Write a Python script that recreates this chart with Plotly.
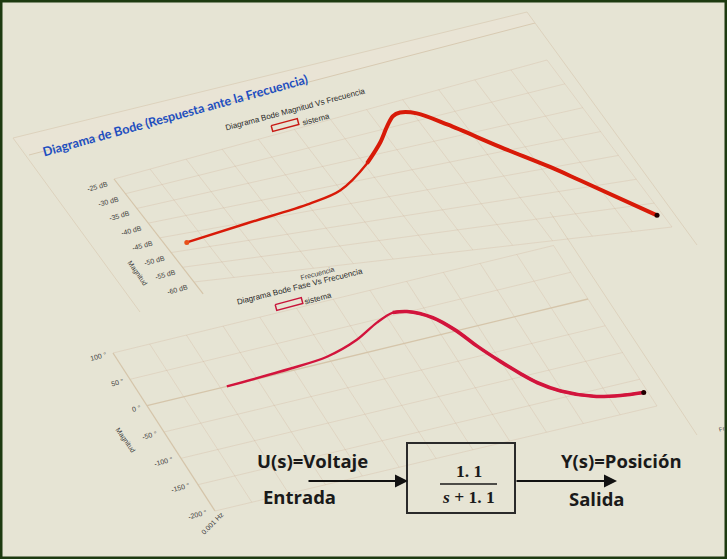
import math
import plotly.graph_objects as go

W, H = 727, 559

# ---------------- data ----------------
# frequency axis: log10(Hz), 0.001 Hz .. 1000 Hz
FREQ_LOG_RANGE = [-3, 3]
FREQ_GRID = [-3, -2.5, -2, -1.5, -1, -0.5, 0, 0.5, 1, 1.5, 2, 2.5, 3]

# magnitude (dB) vs log10 f
MAG_LOGF = [-2.73, -1.866, -0.972, -0.51, 0.036, 0.366, 0.582, 0.744, 0.858,
            1.044, 1.302, 1.71, 2.112, 2.34, 2.928]
MAG_DB = [-47.75, -45.3, -43.2, -41.45, -36.55, -32.7, -29.7, -27.8, -27.45,
          -28.5, -32.3, -39.0, -44.85, -48.45, -57.4]
MAG_RANGE = [-60, -25]
MAG_TICKS = [-25, -30, -35, -40, -45, -50, -55, -60]
MAG_TICK_TEXT = ["-25 dB", "-30 dB", "-35 dB", "-40 dB", "-45 dB", "-50 dB", "-55 dB", "-60 dB"]

# phase (deg) vs log10 f
PH_LOGF = [-1.914, -1.038, -0.51, -0.03, 0.336, 0.6, 0.774, 1.032, 1.2, 1.338,
           1.494, 1.638, 1.77, 1.98, 2.328, 2.652, 2.946]
PH_DEG = [0, 3.8, 8.8, 24.7, 44.7, 54.7, 50.8, 30.6, 2.1, -33.0, -66.8, -94.5,
          -116, -138.4, -159.8, -168.9, -173.1]
PH_RANGE = [-200, 100]
PH_TICKS = [100, 50, 0, -50, -100, -150, -200]
PH_TICK_TEXT = ["100 °", "50 °", "0 °", "-50 °", "-100 °", "-150 °", "-200 °"]

# ---------------- tilted-plane geometry (screen px) ----------------
MAG_BOX = ((194, 282), (672, 227), (114, 179), (547, 60))      # bl, br, tl, tr
PH_BOX = ((215, 511), (657, 406), (113, 353), (553.5, 245.5))


def bilin(box, u, v):
    bl, br, tl, tr = box
    x = (1-u)*(1-v)*bl[0] + u*(1-v)*br[0] + (1-u)*v*tl[0] + u*v*tr[0]
    y = (1-u)*(1-v)*bl[1] + u*(1-v)*br[1] + (1-u)*v*tl[1] + u*v*tr[1]
    return x, y


def fu(logf):
    return (logf - FREQ_LOG_RANGE[0]) / (FREQ_LOG_RANGE[1] - FREQ_LOG_RANGE[0])


def mag_xy(logf, db):
    return bilin(MAG_BOX, fu(logf), (db - MAG_RANGE[0]) / (MAG_RANGE[1] - MAG_RANGE[0]))


def ph_xy(logf, deg):
    return bilin(PH_BOX, fu(logf), (deg - PH_RANGE[0]) / (PH_RANGE[1] - PH_RANGE[0]))


def proj(fn, xs, ys):
    pts = [fn(a, b) for a, b in zip(xs, ys)]
    return [p[0] for p in pts], [p[1] for p in pts]


BG = "#E6E4D4"
GRID = "rgba(200,160,130,0.22)"
AXIS = "#D5C5AA"
TICK_FONT = dict(family="Liberation Sans, Arial", size=7, color="#3a3a3a")

fig = go.Figure()


def add_lines(segs, color, width):
    xs, ys = [], []
    for (x0, y0), (x1, y1) in segs:
        xs += [x0, x1, None]
        ys += [y0, y1, None]
    fig.add_trace(go.Scatter(x=xs, y=ys, mode="lines", line=dict(color=color, width=width),
                             hoverinfo="skip"))


# header band + container borders (decor)
fig.add_trace(go.Scatter(x=[13, 527, 535, 29, 13], y=[138, 12, 23, 155, 138], mode="lines",
                         fill="toself", fillcolor="#E9E4D5", line=dict(color="rgba(0,0,0,0)", width=0),
                         hoverinfo="skip"))
add_lines([((29, 155), (535, 23))], "#D8CAB2", 1)
add_lines([((13, 138), (527, 12)), ((13, 138), (140, 312)), ((527, 12), (697, 245)),
           ((550, 212), (697, 435))], "#DDD2BD", 1)

# ---- magnitude grid ----
segs = []
for db in MAG_TICKS:
    segs.append((mag_xy(FREQ_LOG_RANGE[0], db), mag_xy(FREQ_LOG_RANGE[1], db)))
for lf in FREQ_GRID[1:]:
    segs.append((mag_xy(lf, MAG_RANGE[0]), mag_xy(lf, MAG_RANGE[1])))
add_lines(segs, GRID, 1)
add_lines([(mag_xy(FREQ_LOG_RANGE[0], MAG_RANGE[1]), mag_xy(FREQ_LOG_RANGE[0], MAG_RANGE[0] - 4))], AXIS, 1.2)

# ---- phase grid ----
segs = []
for d in PH_TICKS:
    if d != 0:
        segs.append((ph_xy(FREQ_LOG_RANGE[0], d), ph_xy(FREQ_LOG_RANGE[1], d)))
for lf in FREQ_GRID[1:]:
    segs.append((ph_xy(lf, PH_RANGE[0]), ph_xy(lf, PH_RANGE[1])))
add_lines(segs, GRID, 1)
add_lines([(ph_xy(FREQ_LOG_RANGE[0], PH_RANGE[1]), ph_xy(FREQ_LOG_RANGE[0], PH_RANGE[0])),
           (ph_xy(FREQ_LOG_RANGE[0], 0), ph_xy(FREQ_LOG_RANGE[1], 0))], AXIS, 1.3)

# ---- curves ----
MAG_COLOR = "#D81A08"
PH_COLOR = "#D2143C"
mx, my = proj(mag_xy, MAG_LOGF, MAG_DB)
fig.add_trace(go.Scatter(x=mx, y=my, mode="lines",
                         line=dict(color=MAG_COLOR, width=2.4, shape="spline", smoothing=0.9),
                         hoverinfo="skip"))
k = 4
fig.add_trace(go.Scatter(x=mx[k:], y=my[k:], mode="lines",
                         line=dict(color=MAG_COLOR, width=4, shape="spline", smoothing=0.9),
                         hoverinfo="skip"))
fig.add_trace(go.Scatter(x=[mx[0]], y=[my[0]], mode="markers",
                         marker=dict(color="#E8501A", size=5), hoverinfo="skip"))
fig.add_trace(go.Scatter(x=[mx[-1]], y=[my[-1]], mode="markers",
                         marker=dict(color="#200000", size=5), hoverinfo="skip"))

px, py = proj(ph_xy, PH_LOGF, PH_DEG)
fig.add_trace(go.Scatter(x=px, y=py, mode="lines",
                         line=dict(color=PH_COLOR, width=2.4, shape="spline", smoothing=0.9),
                         hoverinfo="skip"))
k = 5
fig.add_trace(go.Scatter(x=px[k:], y=py[k:], mode="lines",
                         line=dict(color=PH_COLOR, width=3.6, shape="spline", smoothing=0.9),
                         hoverinfo="skip"))
fig.add_trace(go.Scatter(x=[px[-1]], y=[py[-1]], mode="markers",
                         marker=dict(color="#200000", size=5), hoverinfo="skip"))


# ---- legend boxes (decor) ----
def rot_rect(cx, cy, w, h, ang):
    a = math.radians(ang)
    ca, sa = math.cos(a), math.sin(a)
    pts = []
    for dx, dy in [(-w/2, -h/2), (w/2, -h/2), (w/2, h/2), (-w/2, h/2), (-w/2, -h/2)]:
        pts.append((cx + dx*ca - dy*sa, cy + dx*sa + dy*ca))
    return [p[0] for p in pts], [p[1] for p in pts]


for cx, cy, col in [(285, 125, "#C81A14"), (289, 304, "#C8143A")]:
    rx, ry = rot_rect(cx, cy, 27, 6, -15)
    fig.add_trace(go.Scatter(x=rx, y=ry, mode="lines", line=dict(color=col, width=1.5), hoverinfo="skip"))

ann = []


def txt(x, y, s, ang=-15, font=None, **kw):
    d = dict(x=x, y=y, xref="x", yref="y", text=s, showarrow=False, textangle=ang,
             font=font or TICK_FONT)
    d.update(kw)
    ann.append(d)


# tick labels
for d, s in zip(MAG_TICKS, MAG_TICK_TEXT):
    x, y = mag_xy(FREQ_LOG_RANGE[0], d)
    txt(x - 17, y + 7.5, s)
for d, s in zip(PH_TICKS, PH_TICK_TEXT):
    x, y = ph_xy(FREQ_LOG_RANGE[0], d)
    txt(x - (4 + 2.2 * len(s)), y + 3, s)

bx, by = ph_xy(FREQ_LOG_RANGE[0], PH_RANGE[0])
txt(bx - 3, by + 12, "0.001 Hz", ang=-45)
txt(137, 273, "Magnitud", ang=55)
txt(125, 440, "Magnitud", ang=55)
txt(317, 273, "Frecuencia")
txt(722, 429, "Fr", font=dict(family="Liberation Sans", size=6, color="#3a3a3a"))

# titles
TF = dict(family="Liberation Sans, Arial", size=8, color="#2a2a2a")
txt(295, 109, "Diagrama Bode Magnitud Vs Frecuencia", ang=-15, font=TF)
txt(300, 286, "Diagrama Bode Fase Vs Frecuencia", ang=-14, font=TF)
txt(316, 119, "sistema", ang=-15, font=TF)
txt(318, 298, "sistema", ang=-15, font=TF)
txt(175, 115, "<b>Diagrama de Bode (Respuesta ante la Frecuencia)</b>", ang=-15.5,
    font=dict(family="Lato, Open Sans", size=12.6, color="#1E4FC0"))

# ---- block diagram ----
BF = dict(family="Open Sans, Noto Sans", size=18.5, color="#1a1a1a")
txt(312, 460, "<b>U(s)=Voltaje</b>", ang=0, font=BF)
txt(299, 496, "<b>Entrada</b>", ang=0, font=BF)
txt(621, 460, "<b>Y(s)=Posición</b>", ang=0, font=BF)
txt(597, 498, "<b>Salida</b>", ang=0, font=BF)
SF = dict(family="Liberation Serif, DejaVu Serif", size=17.5, color="#1a1a1a")
txt(469, 471, "<b>1. 1</b>", ang=0, font=SF)
txt(468, 497, "<b><i>s</i> + 1. 1</b>", ang=0, font=SF)

for x0, x1 in [(307, 408), (515, 617)]:
    ann.append(dict(x=x1, y=481, ax=x0, ay=481, xref="x", yref="y", axref="x", ayref="y",
                    text="", showarrow=True, arrowhead=2, arrowsize=1.3, arrowwidth=2,
                    arrowcolor="#111111"))

shapes = [
    dict(type="rect", xref="x", yref="y", x0=407, y0=443, x1=515, y1=513,
         line=dict(color="#2a2a2a", width=2)),
    dict(type="line", xref="x", yref="y", x0=440, y0=484, x1=497, y1=484,
         line=dict(color="#1a1a1a", width=1.5)),
    dict(type="rect", xref="paper", yref="paper", x0=0, y0=0, x1=1, y1=1,
         line=dict(color="#1D3A10", width=5)),
]

fig.update_layout(
    width=W, height=H, margin=dict(l=0, r=0, t=0, b=0),
    paper_bgcolor=BG, plot_bgcolor=BG, showlegend=False,
    xaxis=dict(range=[0, W], visible=False, fixedrange=True),
    yaxis=dict(range=[H, 0], visible=False, fixedrange=True),
    annotations=ann, shapes=shapes,
)

fig.write_html("out.html")
